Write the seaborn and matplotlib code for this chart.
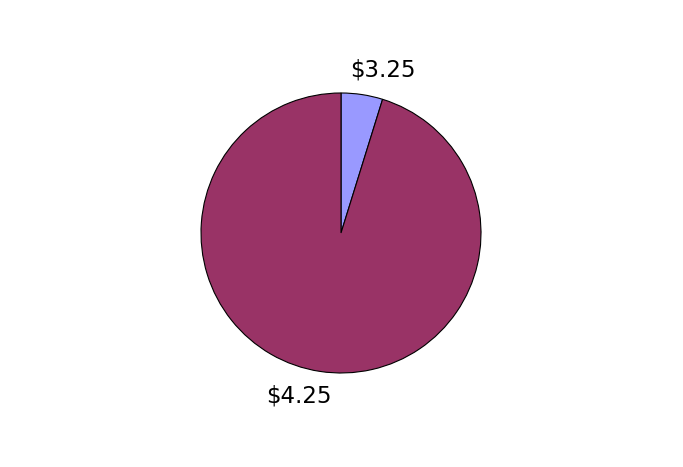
import numpy as np
import seaborn as sns
import matplotlib
matplotlib.use("Agg")
import matplotlib.pyplot as plt

# price share data
labels = ["$3.25", "$4.25"]
shares = [4.8, 95.2]
colors = ["#9999FF", "#993366"]

sns.set_theme(style="white")
plt.rcParams['font.family'] = ['DejaVu Sans']

fig = plt.figure(figsize=(6.83, 4.67), dpi=100)
fig.patch.set_facecolor("white")
ax = fig.add_axes([0.2943, 0.2013, 280 / 683, 280 / 467])

wedges, texts = ax.pie(
    shares,
    labels=labels,
    colors=colors,
    startangle=90,
    counterclock=False,
    labeldistance=1.2,
    wedgeprops=dict(edgecolor="black", linewidth=0.8),
    textprops=dict(fontsize=16.5, color="black"),
)

# Excel-like label placement: centred, nudged outward horizontally
for w, t in zip(wedges, texts):
    mid = np.deg2rad((w.theta1 + w.theta2) / 2)
    x, y = 1.2 * np.cos(mid), 1.18 * np.sin(mid)
    t.set_ha("center")
    t.set_va("center")
    t.set_position((x + np.sign(x) * 0.12, y))

ax.set_xlim(-1, 1)
ax.set_ylim(-1, 1)
ax.set_aspect("equal")
ax.axis("off")

fig.savefig("out.png", dpi=100, facecolor="white")
